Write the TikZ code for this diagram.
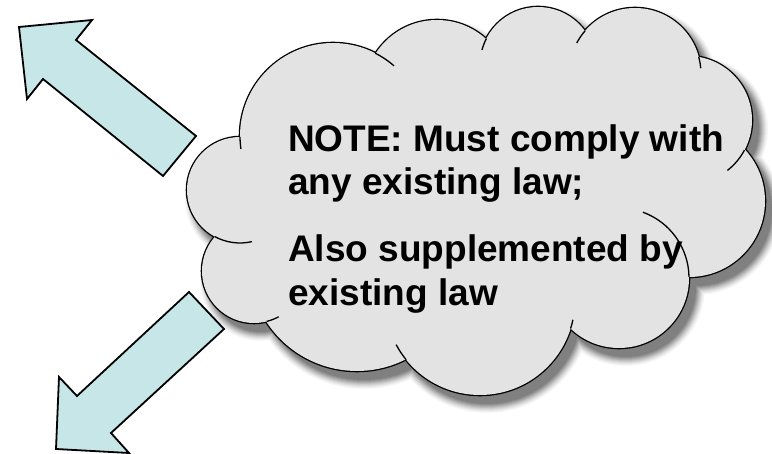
\documentclass[tikz,border=0pt]{standalone}
\usepackage{fontspec}
\setmainfont{Liberation Sans}
\definecolor{arrowfill}{RGB}{198,230,232}
\definecolor{cloudfill}{RGB}{227,227,227}
\begin{document}
\begin{tikzpicture}[x=1pt,y=-1pt,
  blockarrow/.style={fill=arrowfill, draw=black, line width=1.8pt, line join=miter},
  cloudline/.style={draw=black, line width=1.3pt},
  notetext/.style={inner sep=0pt, anchor=base west, font=\bfseries\fontsize{37}{44}\selectfont}]
\useasboundingbox (0,0) rectangle (772,454);
\def\circlist{333/136/93, 437/93/73, 538/65/58, 635/74/66, 688/120/64, 689/201/76, 619/278/70, 480/300/95, 357/263/108, 254/271/52, 240/190/53}
\def\cloudpoly{(333,136) -- (437,93) -- (538,65) -- (635,74) -- (688,120) -- (689,201) -- (619,278) -- (480,300) -- (357,263) -- (254,271) -- (240,190) -- cycle}
% shadow
\begin{scope}[shift={(7,9)}]
\foreach \b/\c in {9/3,8/6,7/10,6/15,5/20,4/26,3/32,2/38,1/44,0/50}{
  \foreach \x/\y/\r in \circlist {\fill[black!\c] (\x,\y) circle[radius=\r+\b];}
  \fill[black!\c] \cloudpoly;
}
\end{scope}
% cloud outline and body
\foreach \x/\y/\r in \circlist {\draw[line width=2.6pt] (\x,\y) circle[radius=\r];}
\foreach \x/\y/\r in \circlist {\fill[cloudfill] (\x,\y) circle[radius=\r];}
\fill[cloudfill] \cloudpoly;
% inner strokes of the cloud
\foreach \x/\y/\r/\a/\e in {333/136/93/-63/-49, 333/136/93/172/179.5, 538/65/58/-165/-153, 635/74/66/-152/-139, 635/74/66/-15/-5, 688/120/64/28/52, 619/278/70/-70/-1, 480/300/95/12/17.5, 480/300/95/141/152, 254/271/52/61.6/76, 240/190/53/77/118.3}
  {\draw[cloudline] (\x,\y) ++(\a:\r) arc[start angle=\a, end angle=\e, radius=\r];}
% text
\node[notetext] (t1) at (288,152) {NOTE: Must comply with};
\node[notetext] (t2) at (288,195) {any existing law;};
\node[notetext] (t3) at (288,262) {Also supplemented by};
\node[notetext] (t4) at (288,306) {existing law};
% block arrows
\filldraw[blockarrow] (196,136) -- (76,40) -- (92,20) -- (19,27) -- (27,99) -- (43,79) -- (163,176) -- cycle;
\filldraw[blockarrow] (189,292) -- (224,329) -- (111,433) -- (129,453) -- (56,449) -- (59,377) -- (77,396) -- cycle;
\end{tikzpicture}
\end{document}
